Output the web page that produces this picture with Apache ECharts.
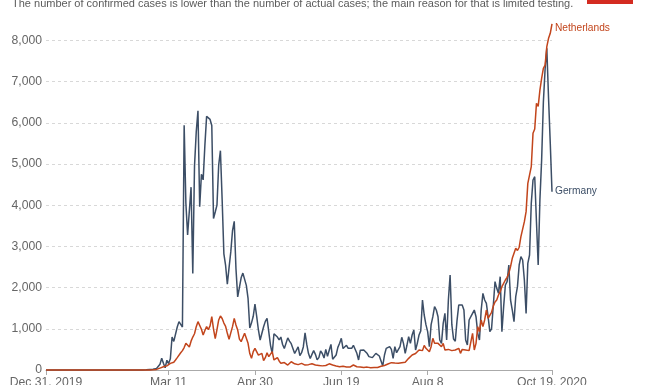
<!DOCTYPE html>
<html>
<head>
<meta charset="utf-8">
<script src="https://cdn.jsdelivr.net/npm/echarts@6/dist/echarts.min.js"></script>
<style>
html,body{margin:0;padding:0;background:#fff;}
#chart{width:645px;height:385px;}
</style>
</head>
<body>
<div id="chart"></div>
<script>
// ---- data ----
const startDate = [2019, 11, 31];
const dayCount = 294;
const tickIndices = [0, 71, 121, 171, 221, 293];
const tickLabels = ["Dec 31, 2019", "Mar 11", "Apr 30", "Jun 19", "Aug 8", "Oct 19, 2020"];
const yTicks = [0, 1000, 2000, 3000, 4000, 5000, 6000, 7000, 8000];
const seriesNames = ["Germany", "Netherlands"];

const germany = [
0,0,0,0,0,0,0,0,0,0,
0,0,0,0,0,0,0,0,0,0,
0,0,0,0,0,0,0,0,1,3,
0,1,1,2,0,0,1,0,0,0,
0,2,0,0,0,0,0,0,0,0,
0,0,0,0,0,0,0,2,4,10,
12,53,18,28,39,66,138,284,163,55,
237,157,271,802,693,733,1043,1174,1144,1042,
5940,4049,3276,3311,4438,2342,4954,5780,6294,3965,
4751,4615,5453,6156,6174,6082,5936,3677,3834,4003,
4974,5323,4133,2821,2537,2082,2486,2866,3380,3609,
2458,1775,1785,2237,2352,2337,2055,1737,1018,1144,
1304,1602,1300,971,728,760,1050,1180,1254,1220,
600,400,880,900,800,730,800,620,520,530,
780,700,640,620,400,430,560,350,420,560,
900,620,400,280,380,470,380,250,300,460,
400,290,500,330,480,620,260,300,364,550,
650,769,520,560,600,526,566,526,600,630,
405,243,480,500,485,470,400,324,364,300,
300,404,390,340,324,100,364,526,540,566,
500,283,566,420,450,566,793,647,404,600,
809,647,849,970,485,647,849,950,1699,1335,
1100,930,566,1100,1294,1537,1456,1294,728,647,
1133,1375,728,1700,2306,1100,750,700,1200,1578,
1537,1578,1456,728,607,1214,1294,1375,1456,1294,
890,728,1456,1861,1699,1618,1294,930,1000,1560,
2144,1982,1860,2265,930,1537,2063,2144,2548,1699,
1456,1174,1780,2023,2548,2750,2670,2184,1375,2589,
2791,4045,4611,4692,3600,2548,4130,5100,6500,7300,
7808,6600,5500,4328
];

const netherlands = [
0,0,0,0,0,0,0,0,0,0,
0,0,0,0,0,0,0,0,0,0,
0,0,0,0,0,0,0,0,0,0,
0,0,0,0,0,0,0,0,0,0,
0,0,0,0,0,0,0,0,0,0,
0,0,0,0,0,0,0,0,0,1,
1,5,6,5,14,44,46,60,77,80,
100,121,160,202,190,243,300,340,420,470,
545,647,600,560,700,800,880,1052,1173,1150,
990,850,960,1052,980,1070,1295,990,760,980,
1214,1311,1250,1140,1060,890,745,900,1052,1254,
1092,971,750,688,728,890,850,647,400,283,
445,526,485,360,323,404,226,300,420,323,
340,445,243,243,300,220,162,200,180,150,
121,160,200,170,150,180,130,110,160,140,
120,150,130,100,150,140,120,130,110,120,
100,95,110,90,150,178,120,100,97,90,
80,70,90,80,75,80,70,100,121,90,
80,90,75,70,60,80,70,60,55,40,
60,50,60,70,90,120,110,140,146,170,
178,160,170,178,165,180,178,170,190,210,
283,320,364,380,400,420,485,460,470,596,
526,485,445,566,769,647,607,647,664,566,
647,485,445,500,485,470,500,485,445,526,
404,500,485,485,485,470,485,890,485,647,
1052,930,1214,1052,1214,1456,1254,1250,1400,1550,
1650,1700,1820,1900,2023,1980,2184,2250,2346,2508,
2710,2680,2953,2900,2980,3236,3260,3600,3843,4530,
4500,4935,5744,5850,6472,6400,6795,7079,7322,7400,
7848,8050,8171,8400
];

const subtitle = "The number of confirmed cases is lower than the number of actual cases; the main reason for that is limited testing.";

// ---- build ----
const monthNames = ["Jan","Feb","Mar","Apr","May","Jun","Jul","Aug","Sep","Oct","Nov","Dec"];
const categories = [];
for (let i = 0; i < dayCount; i++) {
  const d = new Date(Date.UTC(startDate[0], startDate[1], startDate[2] + i));
  categories.push(monthNames[d.getUTCMonth()] + " " + d.getUTCDate() + ", " + d.getUTCFullYear());
}
const labelMap = {};
tickIndices.forEach((idx, k) => { labelMap[idx] = tickLabels[k]; });
const isTick = (index) => labelMap.hasOwnProperty(index);

const FONT = "'Liberation Sans', Arial, sans-serif";
const colGermany = "#3C4E66";
const colNL = "#C2451C";

const chart = echarts.init(document.getElementById('chart'), null, {renderer: 'canvas'});
chart.setOption({
  animation: false,
  backgroundColor: '#fff',
  grid: {left: 46, right: 93, top: 40.4, bottom: 15, containLabel: false, outerBoundsMode: 'none'},
  graphic: [
    {type: 'text', left: 12, top: -2, style: {text: subtitle, fill: '#5b5b5b', font: '11px ' + FONT}},
    {type: 'rect', shape: {x: 587, y: 0, width: 46, height: 4}, style: {fill: '#D42B21'}}
  ],
  xAxis: {
    type: 'category',
    data: categories,
    boundaryGap: false,
    axisLine: {show: true, lineStyle: {color: '#aaa', width: 1}},
    axisTick: {show: true, interval: (i) => isTick(i), length: 5, lineStyle: {color: '#aaa'}},
    axisLabel: {
      interval: (i) => isTick(i),
      formatter: (v, i) => labelMap[i] || '',
      color: '#666', fontSize: 12.2, fontFamily: FONT, margin: 7
    },
    splitLine: {show: false}
  },
  yAxis: {
    type: 'value',
    min: yTicks[0], max: yTicks[yTicks.length - 1], interval: 1000,
    axisLine: {show: false},
    axisTick: {show: false},
    axisLabel: {
      formatter: (v) => v.toLocaleString('en-US'),
      color: '#666', fontSize: 12.2, fontFamily: FONT, margin: 4
    },
    splitLine: {show: true, lineStyle: {color: '#d8d8d8', type: [3, 3], width: 1}}
  },
  series: [
    {
      name: seriesNames[0], type: 'line', data: germany, showSymbol: false, clip: false,
      lineStyle: {color: colGermany, width: 1.5}, itemStyle: {color: colGermany},
      endLabel: {show: true, formatter: '{a}', color: colGermany, fontSize: 10.2, fontFamily: FONT, distance: 3}
    },
    {
      name: seriesNames[1], type: 'line', data: netherlands, showSymbol: false, clip: false,
      lineStyle: {color: colNL, width: 1.5}, itemStyle: {color: colNL},
      endLabel: {show: true, formatter: '{a}', color: colNL, fontSize: 10.2, fontFamily: FONT, distance: 3, offset: [0, 4]}
    }
  ]
});
</script>
</body>
</html>
